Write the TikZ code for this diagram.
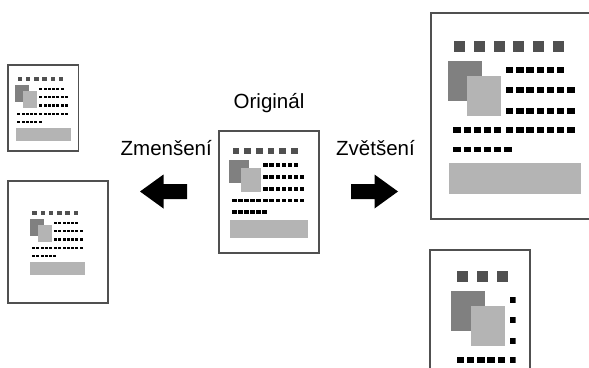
\documentclass[tikz,border=0pt]{standalone}
\usepackage{fontspec}
\setmainfont{Liberation Sans}
\definecolor{frame}{HTML}{505050}
\definecolor{sqdark}{HTML}{505050}
\definecolor{rectdark}{HTML}{808080}
\definecolor{lightg}{HTML}{B4B4B4}
\newcommand{\dotrow}[3]{\foreach \i in {1,...,#3}{\fill[black] ({#2+6.05*(\i-1)},#1) rectangle ++(4.3,3.5);}}
\newcommand{\pagecontent}{%
  \foreach \i in {0,...,5}{\fill[sqdark] ({13.6+11.7*\i},16.6) rectangle ++(6.5,6.3);}
  \fill[rectdark] (10,28.5) rectangle (30,52);
  \fill[lightg] (21.5,37) rectangle (41.5,61);
  \dotrow{32}{44.4}{6}
  \dotrow{44}{44.4}{7}
  \dotrow{56}{44.4}{7}
  \dotrow{67.5}{13.2}{5}
  \dotrow{67.5}{44.4}{7}
  \dotrow{79}{13.2}{6}
  \fill[lightg] (10.7,88.8) rectangle (88.8,107.1);
}
\tikzset{pagebox/.style={draw=frame,line width=1.7pt,fill=white},
  lbl/.style={font=\fontsize{20.5}{24}\selectfont,inner sep=0pt},
  blockarrow/.style={fill=black}}
\begin{document}
\begin{tikzpicture}[x=1pt,y=-1pt]
\useasboundingbox (0,0) rectangle (589,367);
\clip (0,0) rectangle (589,367);
\fill[white] (0,0) rectangle (589,367);
% small reduced page (top left)
\begin{scope}[shift={(8,65)},scale=0.705]
  \draw[pagebox] (0,0) rectangle (100,122);
  \pagecontent
\end{scope}
% same size page with reduced content (lower left)
\begin{scope}[shift={(8,181)}]
  \draw[pagebox] (0,0) rectangle (100,122);
  \begin{scope}[shift={(50,61)},scale=0.705,shift={(-50,-61)}]
    \pagecontent
  \end{scope}
\end{scope}
% original
\begin{scope}[shift={(219,131)}]
  \draw[pagebox] (0,0) rectangle (100,122);
  \pagecontent
\end{scope}
% enlarged page (top right)
\begin{scope}[shift={(431,13)},scale=1.69]
  \draw[pagebox] (0,0) rectangle (100,122);
  \pagecontent
\end{scope}
% same size page with enlarged, cut content (bottom right)
\draw[pagebox] (430,250) rectangle (530,372);
\begin{scope}
  \clip (440,258) rectangle (515.5,372);
  \begin{scope}[shift={(434.5,243)},scale=1.69]
    \pagecontent
  \end{scope}
\end{scope}
% labels
\node[lbl,anchor=base] (orig) at (269,108) {Originál};
\node[lbl,anchor=base east] (zmen) at (212,155) {Zmenšení};
\node[lbl,anchor=base west] (zvet) at (336,155) {Zvětšení};
% arrows
\fill[blockarrow] (140,191.5) -- (163.5,174.5) -- (163.5,184) -- (187,184) -- (187,199) -- (163.5,199) -- (163.5,208.5) -- cycle;
\fill[blockarrow] (398,191.5) -- (374.5,174.5) -- (374.5,184) -- (351,184) -- (351,199) -- (374.5,199) -- (374.5,208.5) -- cycle;
\end{tikzpicture}
\end{document}
